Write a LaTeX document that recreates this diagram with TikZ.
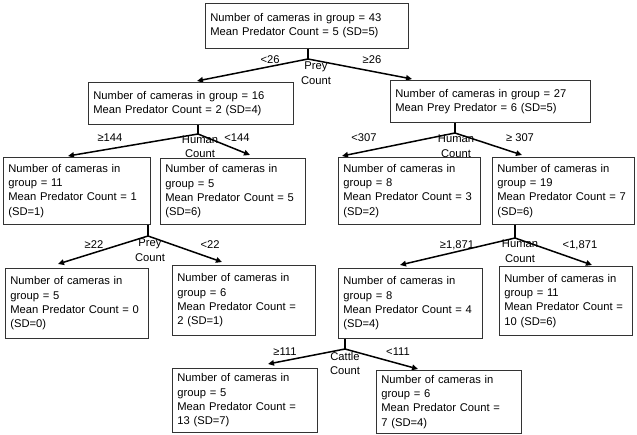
\documentclass[tikz,border=0pt]{standalone}
\usepackage{fontspec}
\setmainfont{Liberation Sans}
\usetikzlibrary{arrows.meta}
\newcommand\fs{\fontsize{11.2}{14.3}\selectfont}
\begin{document}
\begin{tikzpicture}[x=1pt,y=-1pt,
  box/.style={draw=black!80, line width=0.8pt, anchor=north west, align=left,
    inner xsep=5pt, inner ysep=3pt, font=\fs},
  lab/.style={font=\fs, inner sep=0pt, align=center},
  stem/.style={line width=1.5pt},
  arr/.style={line width=1.5pt, -{Triangle[length=6pt,width=5.5pt]}}]
\useasboundingbox (0,0) rectangle (637,435);
% root
\node[box, minimum width=203pt, minimum height=45pt, text width=193pt] (root) at (205,3)
  {Number of cameras in group = 43\\Mean Predator Count = 5 (SD=5)};
\coordinate (v0) at (308,59);
\coordinate (t0l) at (197,81);
\coordinate (t0r) at (412,79);
\draw[stem] (root.south -| v0) -- (v0);
\draw[arr] (v0) -- (t0l);
\draw[arr] (v0) -- (t0r);
\node[lab] (p0a) at (270,60) {<26};
\node[lab] (p0b) at (372,60) {≥26};
\node[lab, anchor=north] (q0) at (316,62) {Prey\\Count};
% level 1
\node[box, minimum width=205pt, minimum height=42pt, text width=195pt] (l1) at (88,82)
  {Number of cameras in group = 16\\Mean Predator Count = 2 (SD=4)};
\node[box, minimum width=200pt, minimum height=42pt, text width=190pt] (r1) at (390,80)
  {Number of cameras in group = 27\\Mean Prey Predator = 6 (SD=5)};
% split under l1
\coordinate (v1) at (198,134);
\coordinate (t1l) at (68,156);
\coordinate (t1r) at (250,155);
\draw[stem] (l1.south -| v1) -- (v1);
\draw[arr] (v1) -- (t1l);
\draw[arr] (v1) -- (t1r);
\node[lab] (p1a) at (110,138) {≥144};
\node[lab] (p1b) at (237,138) {<144};
\node[lab, anchor=north] (q1) at (200,135.5) {Human\\Count};
% split under r1
\coordinate (v2) at (455,133);
\coordinate (t2l) at (342,156);
\coordinate (t2r) at (522,155);
\draw[stem] (r1.south -| v2) -- (v2);
\draw[arr] (v2) -- (t2l);
\draw[arr] (v2) -- (t2r);
\node[lab] (p2a) at (364,138) {<307};
\node[lab] (p2b) at (520,138) {≥ 307};
\node[lab, anchor=north] (q2) at (456,135) {Human\\Count};
% level 2
\node[box, minimum width=147pt, minimum height=67pt, text width=137pt] (l2a) at (3,157)
  {Number of cameras in\\group = 11\\Mean Predator Count = 1\\(SD=1)};
\node[box, minimum width=145pt, minimum height=66pt, text width=135pt] (l2b) at (160,158)
  {Number of cameras in\\group = 5\\Mean Predator Count = 5\\(SD=6)};
\node[box, minimum width=142pt, minimum height=67pt, text width=132pt] (r2a) at (338,157)
  {Number of cameras in\\group = 8\\Mean Predator Count = 3\\(SD=2)};
\node[box, minimum width=142pt, minimum height=67pt, text width=132pt] (r2b) at (492,157)
  {Number of cameras in\\group = 19\\Mean Predator Count = 7\\(SD=6)};
% split under l2a
\coordinate (v3) at (148,236);
\coordinate (t3l) at (58,264);
\coordinate (t3r) at (222,262);
\draw[stem] (l2a.south -| v3) -- (v3);
\draw[arr] (v3) -- (t3l);
\draw[arr] (v3) -- (t3r);
\node[lab] (p3a) at (94,245) {≥22};
\node[lab] (p3b) at (210,245) {<22};
\node[lab, anchor=north] (q3) at (150,239) {Prey\\Count};
% split under r2b
\coordinate (v4) at (515,238);
\coordinate (t4l) at (400,265);
\coordinate (t4r) at (592,265);
\draw[stem] (r2b.south -| v4) -- (v4);
\draw[arr] (v4) -- (t4l);
\draw[arr] (v4) -- (t4r);
\node[lab] (p4a) at (457,245) {≥1,871};
\node[lab] (p4b) at (580,245) {<1,871};
\node[lab, anchor=north] (q4) at (520,240) {Human\\Count};
% level 3
\node[box, minimum width=143pt, minimum height=70pt, text width=133pt] (l3a) at (5,268)
  {Number of cameras in\\group = 5\\Mean Predator Count = 0\\(SD=0)};
\node[box, minimum width=143pt, minimum height=70pt, text width=133pt] (l3b) at (172,265)
  {Number of cameras in\\group = 6\\Mean Predator Count =\\2 (SD=1)};
\node[box, minimum width=144pt, minimum height=70pt, text width=134pt] (r3a) at (338,268)
  {Number of cameras in\\group = 8\\Mean Predator Count = 4\\(SD=4)};
\node[box, minimum width=133pt, minimum height=69pt, text width=123pt] (r3b) at (499,266)
  {Number of cameras in\\group = 11\\Mean Predator Count =\\10 (SD=6)};
% split under r3a
\coordinate (v5) at (345,349);
\coordinate (t5l) at (268,364);
\coordinate (t5r) at (418,369);
\draw[stem] (r3a.south -| v5) -- (v5);
\draw[arr] (v5) -- (t5l);
\draw[arr] (v5) -- (t5r);
\node[lab] (p5a) at (285,352) {≥111};
\node[lab] (p5b) at (398,352) {<111};
\node[lab, anchor=north] (q5) at (345,352) {Cattle\\Count};
% level 4
\node[box, minimum width=145pt, minimum height=64pt, text width=135pt] (l4a) at (172,368)
  {Number of cameras in\\group = 5\\Mean Predator Count =\\13 (SD=7)};
\node[box, minimum width=145pt, minimum height=63pt, text width=135pt] (l4b) at (376,370)
  {Number of cameras in\\group = 6\\Mean Predator Count =\\7 (SD=4)};
\end{tikzpicture}
\end{document}
